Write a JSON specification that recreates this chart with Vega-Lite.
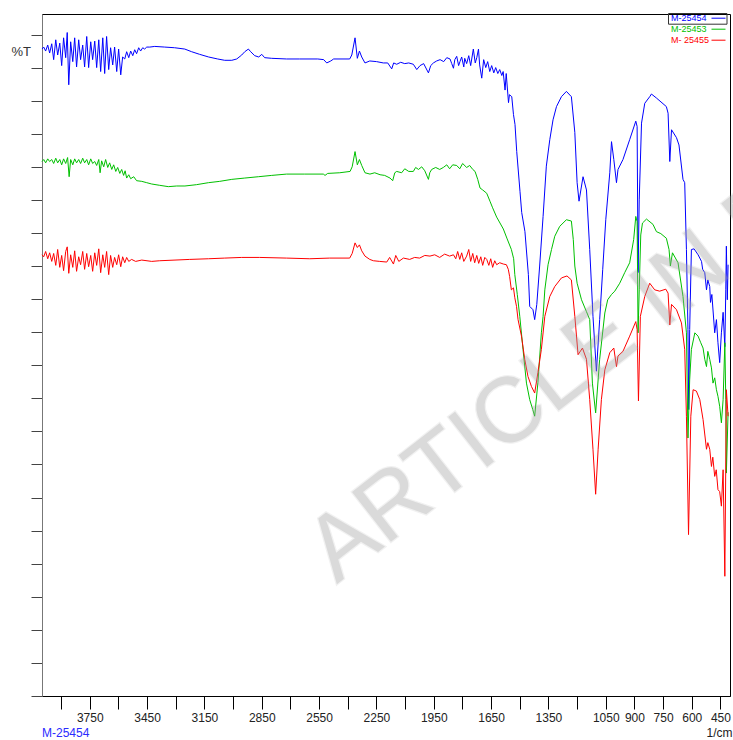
{
  "$schema": "https://vega.github.io/schema/vega-lite/v6.json",
  "width": 688,
  "height": 682,
  "autosize": {"type": "none"},
  "padding": {"left": 42, "top": 14, "right": 3, "bottom": 44},
  "config": {"font": "Liberation Sans", "view": {"stroke": "#000", "strokeWidth": 1}},
  "title": {"text": "M-25454", "orient": "bottom", "anchor": "start", "frame": "group", "fontSize": 12, "fontWeight": "normal", "color": "#2b2bff", "offset": -10, "font": "Liberation Sans"},
  "datasets": {
    "blue": [
      {"wn":4000,"T":97.8},{"wn":3991,"T":98.1},{"wn":3981,"T":97.5},{"wn":3970,"T":98.4},{"wn":3960,"T":97.2},{"wn":3949,"T":98.6},{"wn":3939,"T":96.2},{"wn":3928,"T":99.2},{"wn":3918,"T":96.9},{"wn":3907,"T":98.7},{"wn":3897,"T":95.3},{"wn":3887,"T":99.5},{"wn":3876,"T":96.5},{"wn":3868,"T":100.3},{"wn":3860,"T":92.4},{"wn":3850,"T":98.9},{"wn":3839,"T":95.9},{"wn":3829,"T":99.5},{"wn":3819,"T":95.1},{"wn":3808,"T":99.2},{"wn":3798,"T":96.2},{"wn":3787,"T":98.4},{"wn":3777,"T":95.1},{"wn":3766,"T":99.7},{"wn":3756,"T":95.0},{"wn":3745,"T":98.9},{"wn":3735,"T":96.2},{"wn":3724,"T":99.0},{"wn":3714,"T":95.0},{"wn":3703,"T":99.2},{"wn":3693,"T":94.4},{"wn":3682,"T":99.5},{"wn":3672,"T":94.1},{"wn":3662,"T":99.7},{"wn":3651,"T":94.7},{"wn":3641,"T":98.0},{"wn":3630,"T":95.4},{"wn":3620,"T":98.1},{"wn":3609,"T":94.4},{"wn":3599,"T":97.8},{"wn":3588,"T":93.9},{"wn":3578,"T":96.6},{"wn":3567,"T":96.3},{"wn":3557,"T":97.4},{"wn":3546,"T":96.5},{"wn":3536,"T":97.5},{"wn":3525,"T":96.8},{"wn":3515,"T":97.7},{"wn":3505,"T":97.1},{"wn":3494,"T":98.0},{"wn":3484,"T":97.5},{"wn":3473,"T":98.0},{"wn":3463,"T":97.8},{"wn":3452,"T":98.1},{"wn":3436,"T":98.1},{"wn":3410,"T":98.2},{"wn":3358,"T":98.1},{"wn":3306,"T":98.0},{"wn":3253,"T":97.8},{"wn":3217,"T":97.4},{"wn":3175,"T":97.0},{"wn":3128,"T":96.6},{"wn":3081,"T":96.3},{"wn":3044,"T":96.1},{"wn":3007,"T":96.1},{"wn":2981,"T":96.3},{"wn":2955,"T":96.9},{"wn":2939,"T":97.4},{"wn":2920,"T":97.8},{"wn":2908,"T":97.4},{"wn":2887,"T":96.8},{"wn":2866,"T":96.6},{"wn":2850,"T":97.0},{"wn":2835,"T":96.5},{"wn":2798,"T":96.4},{"wn":2720,"T":96.3},{"wn":2652,"T":96.3},{"wn":2557,"T":96.3},{"wn":2526,"T":96.2},{"wn":2510,"T":95.7},{"wn":2489,"T":96.0},{"wn":2474,"T":96.3},{"wn":2390,"T":96.3},{"wn":2379,"T":96.9},{"wn":2362,"T":99.5},{"wn":2350,"T":96.4},{"wn":2339,"T":97.5},{"wn":2327,"T":96.6},{"wn":2310,"T":95.7},{"wn":2285,"T":96.0},{"wn":2249,"T":95.9},{"wn":2214,"T":95.7},{"wn":2191,"T":95.7},{"wn":2170,"T":94.8},{"wn":2160,"T":95.7},{"wn":2144,"T":95.5},{"wn":2123,"T":95.8},{"wn":2102,"T":95.6},{"wn":2081,"T":95.7},{"wn":2057,"T":95.5},{"wn":2039,"T":94.7},{"wn":2022,"T":95.3},{"wn":2003,"T":95.6},{"wn":1978,"T":94.2},{"wn":1966,"T":95.3},{"wn":1952,"T":95.7},{"wn":1935,"T":96.0},{"wn":1917,"T":96.2},{"wn":1898,"T":95.9},{"wn":1882,"T":96.5},{"wn":1865,"T":96.3},{"wn":1856,"T":95.6},{"wn":1847,"T":94.9},{"wn":1840,"T":96.2},{"wn":1830,"T":96.7},{"wn":1820,"T":95.3},{"wn":1813,"T":95.9},{"wn":1804,"T":96.6},{"wn":1793,"T":95.1},{"wn":1788,"T":96.4},{"wn":1778,"T":95.6},{"wn":1767,"T":96.8},{"wn":1757,"T":95.3},{"wn":1743,"T":97.8},{"wn":1733,"T":95.7},{"wn":1725,"T":96.5},{"wn":1716,"T":97.8},{"wn":1710,"T":95.4},{"wn":1699,"T":93.4},{"wn":1689,"T":96.2},{"wn":1678,"T":95.0},{"wn":1668,"T":95.9},{"wn":1657,"T":94.4},{"wn":1647,"T":95.3},{"wn":1636,"T":94.2},{"wn":1626,"T":95.0},{"wn":1615,"T":94.1},{"wn":1605,"T":94.7},{"wn":1594,"T":93.8},{"wn":1587,"T":94.4},{"wn":1577,"T":91.6},{"wn":1571,"T":94.1},{"wn":1559,"T":89.7},{"wn":1554,"T":90.9},{"wn":1542,"T":90.6},{"wn":1533,"T":87.9},{"wn":1525,"T":86.4},{"wn":1516,"T":82.3},{"wn":1499,"T":76.3},{"wn":1490,"T":73.1},{"wn":1473,"T":70.2},{"wn":1455,"T":63.7},{"wn":1448,"T":58.9},{"wn":1431,"T":58.4},{"wn":1422,"T":56.9},{"wn":1411,"T":59.2},{"wn":1396,"T":65.0},{"wn":1378,"T":72.5},{"wn":1361,"T":80.1},{"wn":1343,"T":84.1},{"wn":1326,"T":87.1},{"wn":1308,"T":89.1},{"wn":1282,"T":90.6},{"wn":1256,"T":91.4},{"wn":1230,"T":90.6},{"wn":1212,"T":85.2},{"wn":1200,"T":77.6},{"wn":1190,"T":74.8},{"wn":1169,"T":78.5},{"wn":1151,"T":76.5},{"wn":1134,"T":67.5},{"wn":1117,"T":57.4},{"wn":1099,"T":49.1},{"wn":1082,"T":56.9},{"wn":1066,"T":64.5},{"wn":1050,"T":72.0},{"wn":1029,"T":79.1},{"wn":1020,"T":83.8},{"wn":1008,"T":81.1},{"wn":994,"T":77.6},{"wn":986,"T":79.6},{"wn":960,"T":81.1},{"wn":925,"T":84.1},{"wn":893,"T":86.9},{"wn":886,"T":86.1},{"wn":881,"T":64.0},{"wn":875,"T":75.0},{"wn":863,"T":86.6},{"wn":846,"T":89.6},{"wn":820,"T":90.6},{"wn":811,"T":91.0},{"wn":785,"T":90.4},{"wn":733,"T":89.1},{"wn":724,"T":88.1},{"wn":715,"T":80.8},{"wn":706,"T":85.6},{"wn":680,"T":84.4},{"wn":667,"T":83.3},{"wn":646,"T":78.1},{"wn":637,"T":77.6},{"wn":628,"T":67.5},{"wn":620,"T":55.4},{"wn":616,"T":43.3},{"wn":611,"T":55.4},{"wn":602,"T":67.5},{"wn":588,"T":67.6},{"wn":567,"T":66.7},{"wn":549,"T":65.7},{"wn":543,"T":64.5},{"wn":532,"T":64.0},{"wn":523,"T":61.4},{"wn":516,"T":62.9},{"wn":506,"T":61.9},{"wn":502,"T":59.5},{"wn":495,"T":60.7},{"wn":480,"T":54.9},{"wn":471,"T":56.9},{"wn":463,"T":53.4},{"wn":454,"T":50.4},{"wn":445,"T":54.9},{"wn":436,"T":58.0},{"wn":427,"T":52.8},{"wn":422,"T":61.4},{"wn":419,"T":68.0},{"wn":414,"T":59.9},{"wn":410,"T":65.2}
    ],
    "green": [
      {"wn":4000,"T":80.8},{"wn":3991,"T":81.1},{"wn":3981,"T":80.6},{"wn":3970,"T":81.2},{"wn":3960,"T":80.8},{"wn":3949,"T":81.1},{"wn":3939,"T":80.5},{"wn":3928,"T":81.3},{"wn":3918,"T":80.6},{"wn":3907,"T":81.1},{"wn":3897,"T":80.3},{"wn":3887,"T":81.2},{"wn":3876,"T":80.5},{"wn":3866,"T":81.4},{"wn":3858,"T":78.5},{"wn":3850,"T":81.1},{"wn":3839,"T":80.3},{"wn":3829,"T":81.2},{"wn":3819,"T":80.6},{"wn":3808,"T":81.1},{"wn":3798,"T":80.5},{"wn":3787,"T":81.3},{"wn":3777,"T":80.6},{"wn":3766,"T":81.1},{"wn":3756,"T":80.3},{"wn":3745,"T":81.2},{"wn":3735,"T":80.5},{"wn":3724,"T":80.8},{"wn":3714,"T":80.2},{"wn":3703,"T":81.1},{"wn":3696,"T":79.1},{"wn":3688,"T":80.9},{"wn":3677,"T":80.0},{"wn":3667,"T":81.1},{"wn":3656,"T":79.9},{"wn":3646,"T":80.6},{"wn":3635,"T":79.6},{"wn":3625,"T":80.3},{"wn":3614,"T":79.3},{"wn":3604,"T":79.9},{"wn":3593,"T":79.0},{"wn":3583,"T":79.6},{"wn":3573,"T":78.7},{"wn":3565,"T":79.4},{"wn":3557,"T":78.3},{"wn":3546,"T":78.8},{"wn":3536,"T":78.2},{"wn":3520,"T":78.5},{"wn":3505,"T":77.9},{"wn":3478,"T":77.8},{"wn":3452,"T":77.6},{"wn":3426,"T":77.4},{"wn":3384,"T":77.2},{"wn":3339,"T":77.0},{"wn":3295,"T":77.1},{"wn":3252,"T":77.1},{"wn":3191,"T":77.3},{"wn":3129,"T":77.6},{"wn":3070,"T":77.8},{"wn":3007,"T":78.1},{"wn":2939,"T":78.3},{"wn":2868,"T":78.5},{"wn":2798,"T":78.7},{"wn":2720,"T":78.9},{"wn":2625,"T":78.9},{"wn":2528,"T":78.9},{"wn":2519,"T":78.7},{"wn":2505,"T":79.0},{"wn":2442,"T":79.1},{"wn":2388,"T":79.3},{"wn":2377,"T":80.0},{"wn":2362,"T":82.3},{"wn":2350,"T":80.3},{"wn":2339,"T":81.1},{"wn":2327,"T":80.2},{"wn":2310,"T":79.1},{"wn":2284,"T":78.9},{"wn":2259,"T":79.1},{"wn":2231,"T":78.8},{"wn":2207,"T":78.7},{"wn":2179,"T":78.3},{"wn":2165,"T":77.9},{"wn":2154,"T":79.1},{"wn":2144,"T":79.3},{"wn":2118,"T":79.1},{"wn":2102,"T":79.7},{"wn":2081,"T":79.3},{"wn":2057,"T":79.3},{"wn":2045,"T":79.9},{"wn":2030,"T":79.6},{"wn":2013,"T":80.0},{"wn":1997,"T":79.4},{"wn":1978,"T":78.1},{"wn":1971,"T":79.1},{"wn":1961,"T":79.6},{"wn":1940,"T":79.9},{"wn":1919,"T":79.6},{"wn":1900,"T":79.9},{"wn":1882,"T":80.3},{"wn":1867,"T":79.7},{"wn":1851,"T":80.3},{"wn":1830,"T":80.2},{"wn":1814,"T":79.7},{"wn":1799,"T":80.5},{"wn":1778,"T":79.9},{"wn":1762,"T":80.2},{"wn":1746,"T":79.6},{"wn":1734,"T":79.3},{"wn":1720,"T":78.1},{"wn":1708,"T":76.8},{"wn":1694,"T":76.5},{"wn":1673,"T":76.0},{"wn":1656,"T":74.8},{"wn":1642,"T":73.8},{"wn":1621,"T":72.4},{"wn":1586,"T":70.6},{"wn":1566,"T":69.1},{"wn":1544,"T":67.5},{"wn":1532,"T":66.1},{"wn":1526,"T":63.7},{"wn":1513,"T":60.7},{"wn":1500,"T":57.4},{"wn":1483,"T":52.4},{"wn":1465,"T":47.3},{"wn":1448,"T":44.8},{"wn":1432,"T":43.3},{"wn":1422,"T":42.3},{"wn":1405,"T":47.4},{"wn":1387,"T":54.9},{"wn":1378,"T":57.4},{"wn":1369,"T":61.4},{"wn":1352,"T":65.2},{"wn":1334,"T":67.5},{"wn":1317,"T":69.5},{"wn":1291,"T":71.0},{"wn":1256,"T":72.0},{"wn":1230,"T":71.8},{"wn":1220,"T":69.0},{"wn":1212,"T":65.0},{"wn":1200,"T":62.4},{"wn":1177,"T":59.9},{"wn":1151,"T":58.1},{"wn":1134,"T":56.9},{"wn":1120,"T":47.3},{"wn":1103,"T":42.8},{"wn":1082,"T":50.9},{"wn":1055,"T":57.9},{"wn":1040,"T":59.9},{"wn":1020,"T":60.7},{"wn":1003,"T":61.2},{"wn":977,"T":62.4},{"wn":951,"T":64.0},{"wn":925,"T":65.5},{"wn":904,"T":69.0},{"wn":893,"T":72.5},{"wn":886,"T":71.7},{"wn":881,"T":54.9},{"wn":875,"T":61.4},{"wn":867,"T":69.7},{"wn":858,"T":71.5},{"wn":837,"T":72.1},{"wn":803,"T":71.3},{"wn":785,"T":70.2},{"wn":762,"T":69.9},{"wn":733,"T":69.2},{"wn":719,"T":67.5},{"wn":712,"T":65.0},{"wn":701,"T":67.0},{"wn":672,"T":65.5},{"wn":646,"T":60.4},{"wn":628,"T":54.9},{"wn":620,"T":39.0},{"wn":611,"T":47.8},{"wn":602,"T":52.4},{"wn":584,"T":54.9},{"wn":567,"T":54.4},{"wn":553,"T":53.4},{"wn":541,"T":52.6},{"wn":532,"T":50.9},{"wn":523,"T":49.8},{"wn":516,"T":52.1},{"wn":506,"T":50.9},{"wn":497,"T":49.6},{"wn":489,"T":47.3},{"wn":480,"T":48.1},{"wn":471,"T":46.3},{"wn":463,"T":45.3},{"wn":454,"T":43.8},{"wn":445,"T":41.3},{"wn":436,"T":44.8},{"wn":427,"T":53.4},{"wn":422,"T":44.8},{"wn":419,"T":33.7},{"wn":410,"T":42.9}
    ],
    "red": [
      {"wn":4000,"T":66.7},{"wn":3991,"T":66.4},{"wn":3981,"T":67.2},{"wn":3970,"T":66.1},{"wn":3960,"T":67.0},{"wn":3949,"T":65.7},{"wn":3939,"T":66.9},{"wn":3928,"T":65.1},{"wn":3918,"T":67.5},{"wn":3907,"T":64.8},{"wn":3897,"T":66.6},{"wn":3887,"T":64.3},{"wn":3876,"T":67.2},{"wn":3868,"T":67.9},{"wn":3860,"T":63.9},{"wn":3850,"T":66.7},{"wn":3839,"T":64.8},{"wn":3829,"T":67.3},{"wn":3819,"T":64.2},{"wn":3808,"T":66.4},{"wn":3798,"T":65.2},{"wn":3787,"T":67.2},{"wn":3777,"T":64.5},{"wn":3766,"T":66.9},{"wn":3756,"T":64.9},{"wn":3745,"T":66.6},{"wn":3735,"T":64.2},{"wn":3724,"T":67.0},{"wn":3714,"T":65.1},{"wn":3703,"T":67.6},{"wn":3693,"T":64.0},{"wn":3682,"T":66.7},{"wn":3672,"T":64.8},{"wn":3662,"T":67.2},{"wn":3651,"T":63.7},{"wn":3641,"T":66.6},{"wn":3630,"T":64.8},{"wn":3620,"T":66.3},{"wn":3609,"T":65.2},{"wn":3599,"T":66.7},{"wn":3588,"T":64.9},{"wn":3578,"T":66.4},{"wn":3567,"T":65.5},{"wn":3557,"T":66.3},{"wn":3546,"T":65.7},{"wn":3531,"T":66.0},{"wn":3510,"T":65.7},{"wn":3478,"T":65.9},{"wn":3426,"T":65.7},{"wn":3384,"T":65.8},{"wn":3304,"T":65.9},{"wn":3227,"T":66.0},{"wn":3129,"T":66.1},{"wn":3044,"T":66.2},{"wn":2955,"T":66.3},{"wn":2861,"T":66.3},{"wn":2720,"T":66.2},{"wn":2599,"T":66.1},{"wn":2495,"T":66.2},{"wn":2390,"T":66.2},{"wn":2377,"T":66.9},{"wn":2362,"T":68.5},{"wn":2350,"T":67.8},{"wn":2339,"T":68.2},{"wn":2327,"T":67.3},{"wn":2310,"T":66.5},{"wn":2285,"T":66.0},{"wn":2266,"T":65.8},{"wn":2233,"T":65.7},{"wn":2196,"T":65.6},{"wn":2181,"T":66.3},{"wn":2161,"T":65.3},{"wn":2149,"T":66.6},{"wn":2133,"T":65.7},{"wn":2109,"T":66.2},{"wn":2076,"T":66.0},{"wn":2050,"T":66.3},{"wn":2024,"T":66.2},{"wn":1997,"T":66.6},{"wn":1970,"T":66.5},{"wn":1945,"T":66.7},{"wn":1919,"T":66.3},{"wn":1893,"T":66.8},{"wn":1867,"T":66.5},{"wn":1847,"T":66.7},{"wn":1835,"T":66.1},{"wn":1825,"T":67.2},{"wn":1814,"T":66.0},{"wn":1804,"T":67.0},{"wn":1793,"T":65.7},{"wn":1778,"T":66.5},{"wn":1767,"T":67.5},{"wn":1757,"T":65.7},{"wn":1746,"T":66.9},{"wn":1736,"T":65.5},{"wn":1725,"T":66.6},{"wn":1715,"T":65.4},{"wn":1704,"T":66.4},{"wn":1694,"T":65.1},{"wn":1683,"T":66.3},{"wn":1673,"T":66.0},{"wn":1662,"T":65.1},{"wn":1652,"T":66.1},{"wn":1642,"T":64.8},{"wn":1631,"T":65.8},{"wn":1621,"T":65.2},{"wn":1605,"T":65.5},{"wn":1586,"T":65.3},{"wn":1570,"T":65.2},{"wn":1560,"T":64.5},{"wn":1553,"T":63.4},{"wn":1544,"T":61.4},{"wn":1533,"T":61.7},{"wn":1526,"T":60.2},{"wn":1517,"T":58.9},{"wn":1509,"T":56.9},{"wn":1491,"T":54.4},{"wn":1474,"T":50.9},{"wn":1457,"T":48.3},{"wn":1439,"T":46.8},{"wn":1422,"T":45.8},{"wn":1405,"T":48.9},{"wn":1387,"T":52.4},{"wn":1369,"T":57.4},{"wn":1343,"T":60.4},{"wn":1317,"T":61.9},{"wn":1282,"T":63.2},{"wn":1253,"T":63.5},{"wn":1230,"T":62.9},{"wn":1212,"T":57.4},{"wn":1195,"T":51.6},{"wn":1172,"T":52.6},{"wn":1151,"T":50.9},{"wn":1134,"T":44.8},{"wn":1117,"T":37.3},{"wn":1103,"T":30.5},{"wn":1090,"T":37.3},{"wn":1073,"T":44.8},{"wn":1055,"T":49.3},{"wn":1029,"T":51.9},{"wn":1008,"T":52.6},{"wn":994,"T":49.8},{"wn":986,"T":51.4},{"wn":960,"T":52.1},{"wn":925,"T":54.4},{"wn":893,"T":56.6},{"wn":886,"T":55.4},{"wn":879,"T":44.6},{"wn":869,"T":57.4},{"wn":846,"T":60.4},{"wn":820,"T":62.4},{"wn":794,"T":61.4},{"wn":768,"T":61.2},{"wn":736,"T":61.5},{"wn":724,"T":60.9},{"wn":715,"T":56.1},{"wn":706,"T":59.2},{"wn":680,"T":58.4},{"wn":654,"T":56.4},{"wn":637,"T":52.4},{"wn":628,"T":42.3},{"wn":617,"T":24.4},{"wn":605,"T":42.3},{"wn":593,"T":46.3},{"wn":576,"T":46.1},{"wn":558,"T":44.8},{"wn":541,"T":41.8},{"wn":523,"T":37.3},{"wn":516,"T":38.3},{"wn":506,"T":37.3},{"wn":497,"T":34.7},{"wn":490,"T":36.1},{"wn":480,"T":33.2},{"wn":472,"T":34.2},{"wn":463,"T":31.2},{"wn":454,"T":30.9},{"wn":445,"T":28.7},{"wn":436,"T":34.2},{"wn":427,"T":18.1},{"wn":419,"T":46.3},{"wn":410,"T":42.3}
    ],
    "watermark": [{"note": "ARTICLE IN PRESS", "wn": 2458, "T": 16.9}]
  },
  "layer": [
    {
      "data": {"name": "blue"},
      "mark": {"type": "line", "strokeWidth": 1},
      "encoding": {
        "x": {"field": "wn", "type": "quantitative",
          "scale": {"domain": [400, 4000], "reverse": true, "nice": false, "zero": false},
          "axis": {"values": [3900,3750,3600,3450,3300,3150,3000,2850,2700,2550,2400,2250,2100,1950,1800,1650,1500,1350,1200,1050,900,750,600,450],
            "tickCount": 100,
            "labelExpr": "(datum.value >= 1200 && datum.value % 300 == 0) ? '' : format(datum.value, 'd')",
            "tickSize": 13, "tickColor": "#000", "domainColor": "#000", "labelFontSize": 12, "labelColor": "#222", "labelPadding": 3, "labelOverlap": false, "labelFlush": false, "grid": false,
            "title": "1/cm", "titleFontSize": 12, "titleFontWeight": "normal", "titleColor": "#222", "titleAlign": "right", "titleAnchor": "end", "titleX": 690, "titleY": 40, "titleBaseline": "alphabetic"}},
        "y": {"field": "T", "type": "quantitative",
          "scale": {"domain": [0, 103.1], "nice": false, "zero": false},
          "axis": {"values": [0,5,10,15,20,25,30,35,40,45,50,55,60,65,70,75,80,85,90,95,100], "tickCount": 100, "labels": false, "tickSize": 11, "tickColor": "#444", "domainColor": "#777", "grid": false,
            "title": "%T", "titleAngle": 0, "titleX": -31, "titleY": 37, "titleAlign": "left", "titleBaseline": "middle", "titleFontSize": 13, "titleFontWeight": "normal", "titleColor": "#333"}},
        "color": {"datum": "M-25454", "type": "nominal",
          "scale": {"domain": ["M-25454", "M-25453", "M- 25455"], "range": ["#0000ff", "#00c000", "#ff0000"]},
          "legend": {"orient": "none", "legendX": 626, "legendY": -1, "title": null, "symbolType": "stroke", "symbolSize": 196, "symbolStrokeWidth": 1, "labelFontSize": 9, "labelFont": "Liberation Sans", "padding": 0, "rowPadding": 0, "clipHeight": 10.4, "symbolOffset": 43, "labelOffset": -55, "labelLimit": 0,
            "encode": {
              "labels": {"update": {"fill": {"scale": "color", "field": "value"}}},
              "symbols": {"update": {"stroke": {"scale": "color", "field": "value"}, "strokeWidth": {"value": 1}, "opacity": {"value": 1}}},
              "entries": {"update": {"stroke": {"signal": "datum.index === 0 ? '#333' : null"}, "width": {"value": 58}, "height": {"value": 9.5}}}
            }}}
      }
    },
    {
      "data": {"name": "green"},
      "mark": {"type": "line", "strokeWidth": 1},
      "encoding": {
        "x": {"field": "wn", "type": "quantitative"},
        "y": {"field": "T", "type": "quantitative"},
        "color": {"datum": "M-25453", "type": "nominal"}
      }
    },
    {
      "data": {"name": "red"},
      "mark": {"type": "line", "strokeWidth": 1},
      "encoding": {
        "x": {"field": "wn", "type": "quantitative"},
        "y": {"field": "T", "type": "quantitative"},
        "color": {"datum": "M- 25455", "type": "nominal"}
      }
    },
    {
      "data": {"name": "watermark"},
      "mark": {"type": "text", "angle": 322, "align": "left", "baseline": "alphabetic", "fontSize": 92, "font": "Liberation Sans", "color": "#a0a0a0", "opacity": 0.38, "stroke": "#a0a0a0", "strokeWidth": 2.5, "strokeOpacity": 0.38},
      "encoding": {
        "x": {"field": "wn", "type": "quantitative"},
        "y": {"field": "T", "type": "quantitative"},
        "text": {"field": "note"}
      }
    }
  ]
}
